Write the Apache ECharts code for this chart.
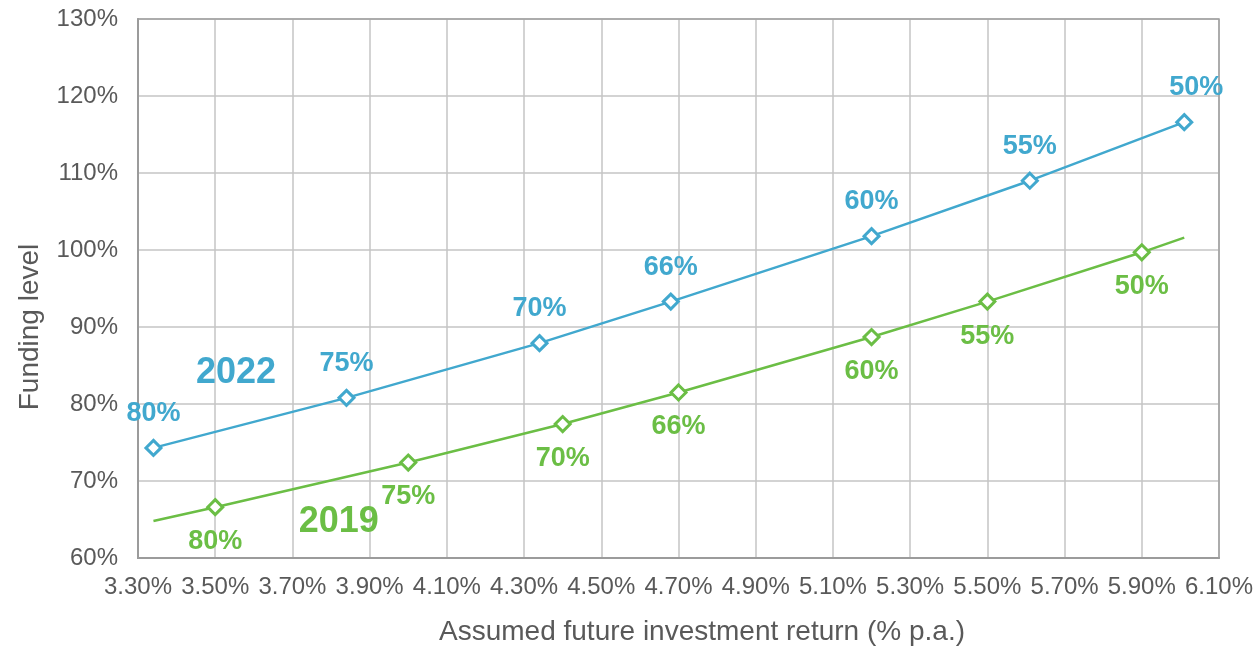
<!DOCTYPE html>
<html>
<head>
<meta charset="utf-8">
<script src="https://cdn.jsdelivr.net/npm/echarts@6/dist/echarts.min.js"></script>
<style>
  html, body { margin: 0; padding: 0; background: #fff; }
  #chart { width: 1259px; height: 646px; }
</style>
</head>
<body>
<div id="chart"></div>
<script>
// 2022 valuation: funding level vs assumed return, labelled with probability
const x2022 = [3.34, 3.84, 4.34, 4.68, 5.20, 5.61, 6.01];
const y2022 = [74.3, 80.8, 87.9, 93.3, 101.8, 109.0, 116.6];
const labels2022 = ['80%', '75%', '70%', '66%', '60%', '55%', '50%'];

// 2019 valuation (first and last points have no marker)
const x2019 = [3.34, 3.50, 4.00, 4.40, 4.70, 5.20, 5.50, 5.90, 6.01];
const y2019 = [64.8, 66.6, 72.4, 77.4, 81.5, 88.7, 93.3, 99.7, 101.6];
const labels2019 = ['', '80%', '75%', '70%', '66%', '60%', '55%', '50%', ''];

// year captions placed in data coordinates
const yearNames = ['2022', '2019'];
const yearX = [3.554, 3.82];
const yearY = [84.0, 64.7];

const blue = '#41A8CE';
const green = '#6BBE45';
const textGrey = '#595959';
const font = '"Liberation Sans", Arial, sans-serif';

function buildPoints(xs, ys, labels) {
  return xs.map((x, i) => {
    let item = { value: [x, ys[i]], label: { formatter: labels[i] } };
    if (!labels[i]) item.symbol = 'none';
    return item;
  });
}

const chart = echarts.init(document.getElementById('chart'), null, { renderer: 'canvas' });

const blueData = buildPoints(x2022, y2022, labels2022);
blueData[blueData.length - 1].label.offset = [12, 0];

chart.setOption({
  animation: false,
  grid: { left: 138, right: 40, top: 19, bottom: 88, containLabel: false },
  xAxis: {
    type: 'value',
    min: 3.3,
    max: 6.1,
    interval: 0.2,
    axisLine: { show: true, onZero: false, lineStyle: { color: '#8c8c8c', width: 2 } },
    axisTick: { show: false },
    axisLabel: {
      fontFamily: font, fontSize: 24, color: textGrey, margin: 17,
      formatter: v => v.toFixed(2) + '%'
    },
    splitLine: { show: true, lineStyle: { color: '#c4c4c4', width: 1.5 } }
  },
  yAxis: {
    type: 'value',
    min: 60,
    max: 130,
    interval: 10,
    axisLine: { show: true, lineStyle: { color: '#8c8c8c', width: 2 } },
    axisTick: { show: false },
    axisLabel: { fontFamily: font, fontSize: 24, color: textGrey, margin: 20, formatter: '{value}%' },
    splitLine: { show: true, lineStyle: { color: '#c4c4c4', width: 1.5 } }
  },
  graphic: [
    {
      type: 'rect',
      shape: { x: 138, y: 19, width: 1081, height: 539 },
      style: { fill: 'none', stroke: '#a0a0a0', lineWidth: 1.5 },
      silent: true,
      z: 1
    },
    {
      type: 'text',
      x: 702, y: 632,
      style: {
        text: 'Assumed future investment return (% p.a.)',
        fontFamily: font, fontSize: 28, fill: textGrey,
        align: 'center', verticalAlign: 'middle'
      }
    },
    {
      type: 'text',
      x: 30, y: 327,
      rotation: Math.PI / 2,
      style: {
        text: 'Funding level',
        fontFamily: font, fontSize: 28, fill: textGrey,
        align: 'center', verticalAlign: 'middle'
      }
    }
  ],
  series: [
    {
      name: '2022',
      type: 'line',
      data: blueData,
      symbol: 'diamond',
      symbolSize: 15,
      lineStyle: { color: blue, width: 2.5 },
      itemStyle: { color: '#fff', borderColor: blue, borderWidth: 3 },
      label: {
        show: true, position: 'top', distance: 12,
        fontFamily: font, fontSize: 27, fontWeight: 'bold', color: blue
      },
      z: 3
    },
    {
      name: '2019',
      type: 'line',
      data: buildPoints(x2019, y2019, labels2019),
      symbol: 'diamond',
      symbolSize: 15,
      lineStyle: { color: green, width: 2.5 },
      itemStyle: { color: '#fff', borderColor: green, borderWidth: 3 },
      label: {
        show: true, position: 'bottom', distance: 12,
        fontFamily: font, fontSize: 27, fontWeight: 'bold', color: green
      },
      z: 3
    },
    {
      name: 'years',
      type: 'scatter',
      symbol: 'circle',
      symbolSize: 1,
      itemStyle: { color: '#fff', opacity: 1 },
      data: yearNames.map((n, i) => ({
        value: [yearX[i], yearY[i]],
        label: { formatter: n, color: i === 0 ? blue : green }
      })),
      label: {
        show: true, position: 'inside', textBorderWidth: 0,
        fontFamily: font, fontSize: 36, fontWeight: 'bold'
      },
      z: 4
    }
  ]
});

window.addEventListener('resize', () => chart.resize());
</script>
</body>
</html>
